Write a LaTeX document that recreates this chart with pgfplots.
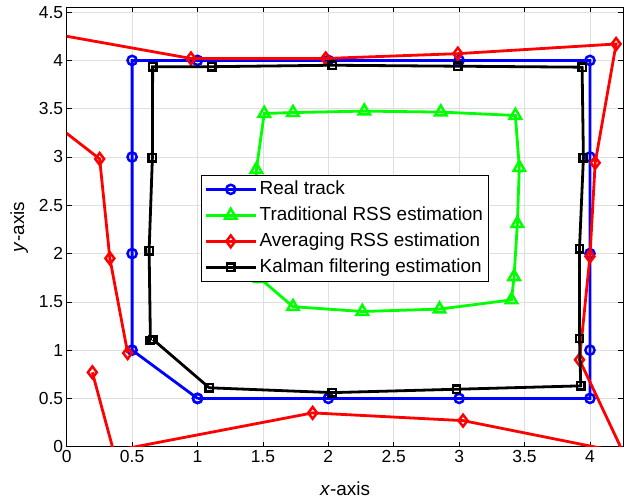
\documentclass[border=0pt]{standalone}
\usepackage{pgfplots}
\pgfplotsset{compat=1.18}
\usepackage{fontspec}
\setmainfont{Liberation Sans}
\newcommand{\fs}{\fontsize{17.5}{21}\selectfont}
\newcommand{\fl}{\fontsize{19}{22}\selectfont}
\begin{document}
\begin{tikzpicture}
\begin{axis}[
  scale only axis,
  width=556.6bp, height=439.4bp,
  xmin=0, xmax=4.255, ymin=0, ymax=4.55,
  xtick={0,0.5,...,4}, ytick={0,0.5,...,4.5},
  xticklabels={0,0.5,1,1.5,2,2.5,3,3.5,4},
  yticklabels={0,0.5,1,1.5,2,2.5,3,3.5,4,4.5},
  tick align=inside, tick pos=both,
  major tick length=5bp,
  every tick/.style={black, line width=0.6bp},
  axis line style={black, line width=0.7bp},
  grid=major,
  major grid style={gray!25, line width=0.6bp},
  font=\fs,
  tick label style={font=\fs},
  /pgf/number format/assume math mode=true,
  xlabel={\textit{x}-axis}, ylabel={\textit{y}-axis},
  label style={font=\fl},
  xlabel style={yshift=-12bp},
  ylabel style={yshift=4bp},
  clip marker paths=true,
  every mark/.append style={solid, fill=white, line width=2.5bp},
  legend cell align=left,
  legend style={at={(0.2413,0.6183)}, anchor=north west, draw=black, line width=0.7bp, fill=white,
    font=\fl, inner xsep=3bp, inner ysep=1bp, row sep=0bp,
    nodes={inner xsep=2.5bp, inner ysep=4.5bp, text height=13.5bp, text depth=3.5bp}},
  legend image code/.code={\draw[mark repeat=2, mark phase=2, #1] plot coordinates {(0bp,0bp) (25bp,0bp) (50bp,0bp)};},
]
\addplot[blue, line width=2.8bp, mark=o, mark size=4.6bp, mark options={solid, fill=white, line width=2.5bp}] coordinates {
 (1,0.5) (0.5,1) (0.5,2) (0.5,3) (0.5,4) (1,4) (2,4) (3,4) (4,4) (4,3) (4,2) (4,1) (4,0.5) (3,0.5) (2,0.5) (1,0.5)};
\addlegendentry{Real track}
\addplot[green, line width=2.8bp, mark=triangle, mark size=6.6bp, mark options={solid, fill=white, line width=2.5bp}] coordinates {
 (1.48,1.74) (1.44,2.30) (1.45,2.87) (1.51,3.45) (1.73,3.46) (2.275,3.475) (2.86,3.465) (3.43,3.43) (3.46,2.89) (3.445,2.31) (3.42,1.76) (3.40,1.52) (2.85,1.425) (2.26,1.40) (1.73,1.45) (1.48,1.74)};
\addlegendentry{Traditional RSS estimation}
\addplot[red, line width=2.8bp, mark=diamond, mark size=5.9bp, mark options={solid, fill=white, line width=2.5bp}] coordinates {
 (0.466,0.97) (0.33,1.95) (0.252,2.98) (-1.24,4.55) (0.95,4.02) (1.98,4.02) (2.99,4.07) (4.20,4.17) (4.04,2.94) (4.00,1.97) (3.92,0.90) (4.255,-0.062) (3.03,0.27) (1.88,0.35) (0.358,-0.044) (0.196,0.77)};
\addlegendentry{Averaging RSS estimation}
\addplot[black, line width=2.8bp, mark=square, mark size=3.7bp, mark options={solid, fill=white, line width=2.5bp}] coordinates {
 (0.64,1.10) (0.63,2.03) (0.655,2.99) (0.657,3.935) (1.11,3.935) (2.03,3.95) (2.99,3.94) (3.94,3.93) (3.95,2.99) (3.92,2.05) (3.92,1.12) (3.93,0.63) (2.98,0.595) (2.03,0.56) (1.09,0.61) (0.66,1.11)};
\addlegendentry{Kalman filtering estimation}
\end{axis}
\pgfresetboundingbox
\path ([shift={(-66.7bp,-55.3bp)}]current axis.south west) rectangle ([shift={(6.7bp,7.3bp)}]current axis.north east);
\end{tikzpicture}
\end{document}
